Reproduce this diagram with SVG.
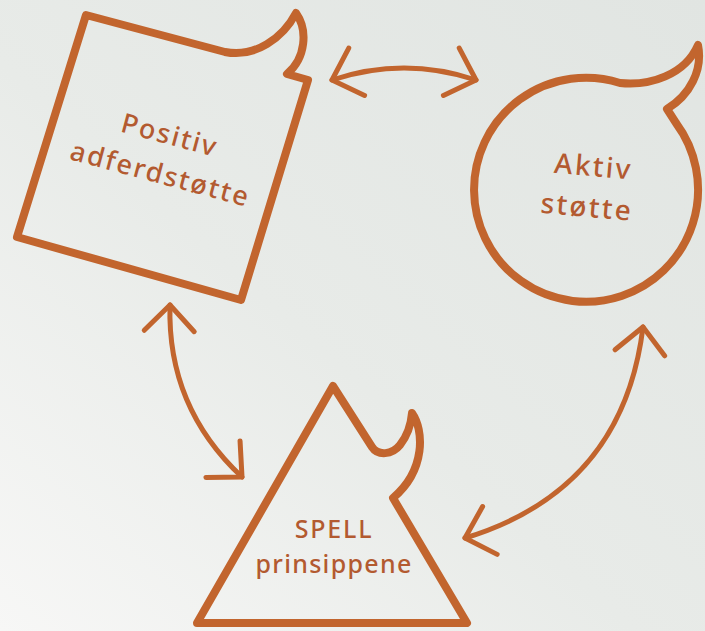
<svg xmlns="http://www.w3.org/2000/svg" width="705" height="631" viewBox="0 0 705 631">
<defs>
<linearGradient id="bg" x1="1" y1="0" x2="0" y2="1">
<stop offset="0" stop-color="#e1e5e2"/>
<stop offset="0.55" stop-color="#e8ebe8"/>
<stop offset="1" stop-color="#f7f7f6"/>
</linearGradient>
<marker id="ah" markerUnits="userSpaceOnUse" markerWidth="60" markerHeight="60" viewBox="-40 -30 50 60" refX="0" refY="0" orient="auto-start-reverse">
<path d="M-26,-25 L0,0 L-26,25" fill="none" stroke="#c2652e" stroke-width="5" stroke-linecap="round" stroke-linejoin="round"/>
</marker>
<style>
.shape{fill:none;stroke:#c2652e;stroke-width:8;stroke-linejoin:round;stroke-linecap:round}
.conn{fill:none;stroke:#c2652e;stroke-width:5;stroke-linecap:round;marker-start:url(#ah);marker-end:url(#ah)}
.lbl{font-family:"Noto Sans","DejaVu Sans",sans-serif;fill:#b35a30;text-anchor:middle;font-weight:500}
</style>
</defs>
<rect width="705" height="631" fill="url(#bg)"/>
<g id="connectors">
<path class="conn" d="M332,80 Q404,56 476,80"/>
<path class="conn" d="M170,305 Q167,407 242,477"/>
<path class="conn" d="M643,327 Q623,490 465,538"/>
</g>
<g id="node-positiv">
<path class="shape" d="M86,15 L225,52 C255,58 283,38 296,13 C308,30 306,58 287,74 L308,80 L241,300 L17,237 Z"/>
<g transform="rotate(15 160 156)">
<text class="lbl" x="164" y="142.6" font-size="27" letter-spacing="2">Positiv</text>
<text class="lbl" x="165" y="182.6" font-size="27" letter-spacing="2">adferdstøtte</text>
</g>
</g>
<g id="node-aktiv">
<path class="shape" d="M620,83 C650,86 685,75 698,45 C703,70 690,95 667,109 L676,123 A112,112 0 1 1 620,83 Z"/>
<g transform="rotate(5 590 196)">
<text class="lbl" x="591" y="176" font-size="28" letter-spacing="2.3">Aktiv</text>
<text class="lbl" x="588" y="217" font-size="28" letter-spacing="2.3">støtte</text>
</g>
</g>
<g id="node-spell">
<path class="shape" d="M333,386 L372,447 C378,456 392,455 400,445 C407,436 411,425 412,413 C424,430 426,470 393,498 L467,623 L197,623 Z"/>
<text class="lbl" x="334" y="538" font-size="25" letter-spacing="1.8">SPELL</text>
<text class="lbl" x="334" y="573" font-size="25" letter-spacing="1.3">prinsippene</text>
</g>
</svg>
